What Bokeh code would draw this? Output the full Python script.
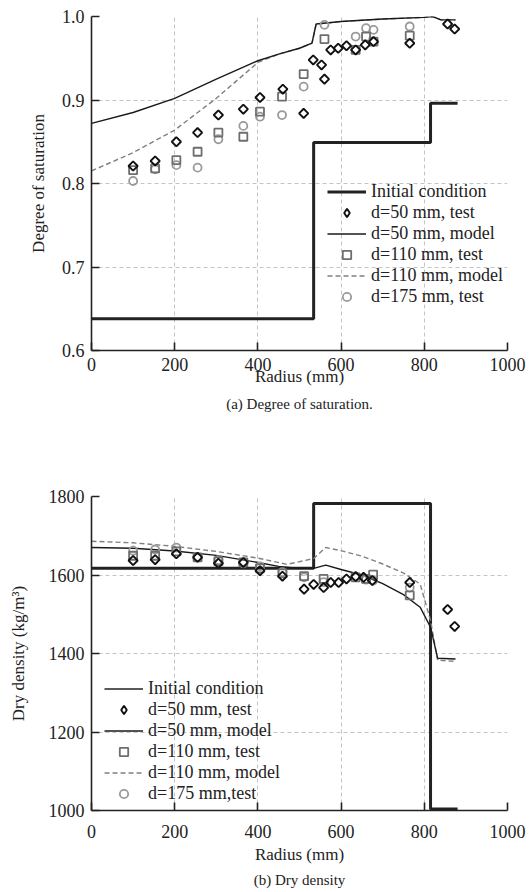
import math
from bokeh.plotting import figure
from bokeh.layouts import column
from bokeh.models import Legend, LegendItem, FixedTicker, NumeralTickFormatter, Title
from bokeh.embed import file_html
from bokeh.resources import INLINE

FONT = "Liberation Serif"

# ---------------- (a) Degree of saturation ----------------
init_r = [0, 534, 815, 880]
init_sat = [0.638, 0.849, 0.896, 0.896]

d50_test_r = [100, 153, 204, 255, 305, 365, 405, 460, 510, 533, 553, 560, 575, 593, 613, 635, 658, 678, 765, 856, 873]
d50_test_sat = [0.821, 0.827, 0.850, 0.861, 0.882, 0.889, 0.903, 0.913, 0.884, 0.948, 0.942, 0.925, 0.960, 0.962,
                0.965, 0.960, 0.966, 0.970, 0.968, 0.991, 0.985]

d50_model_r = [0, 100, 200, 300, 400, 450, 500, 530, 540, 600, 700, 800, 820, 840, 875]
d50_model_sat = [0.872, 0.885, 0.902, 0.925, 0.947, 0.955, 0.962, 0.968, 0.991, 0.994, 0.997, 0.999, 1.0, 0.996, 0.996]

d110_test_r = [100, 153, 204, 255, 305, 365, 405, 458, 510, 560, 635, 660, 678, 765]
d110_test_sat = [0.816, 0.818, 0.828, 0.838, 0.861, 0.856, 0.886, 0.904, 0.931, 0.973, 0.960, 0.976, 0.970, 0.977]

d110_model_r = [0, 100, 200, 300, 400, 450, 500, 530, 540, 600, 700, 800, 820, 840, 875]
d110_model_sat = [0.815, 0.837, 0.864, 0.902, 0.945, 0.955, 0.962, 0.968, 0.991, 0.994, 0.997, 0.999, 1.0, 0.996, 0.996]

d175_test_r = [100, 153, 204, 255, 305, 365, 405, 458, 510, 560, 635, 660, 678, 765]
d175_test_sat = [0.803, 0.817, 0.822, 0.819, 0.853, 0.869, 0.880, 0.882, 0.916, 0.990, 0.976, 0.986, 0.984, 0.988]

# ---------------- (b) Dry density ----------------
init_rho = [1617, 1782, 1004, 1004]

d50_test_rb = [100, 153, 204, 255, 305, 365, 405, 459, 511, 534, 558, 575, 594, 613, 635, 654, 675, 765, 856, 873]
d50_test_rho = [1637, 1639, 1654, 1645, 1630, 1632, 1611, 1597, 1564, 1576, 1568, 1581, 1581, 1590, 1596, 1594,
                1586, 1581, 1512, 1469]

d50_model_rb = [0, 100, 200, 300, 400, 450, 500, 534, 563, 600, 650, 700, 750, 790, 815, 832, 875]
d50_model_rho = [1670, 1668, 1661, 1650, 1632, 1622, 1617, 1617, 1625, 1614, 1600, 1578, 1550, 1518, 1467, 1388, 1386]

d110_test_rb = [100, 153, 204, 255, 305, 365, 405, 459, 511, 558, 635, 660, 677, 765]
d110_test_rho = [1649, 1649, 1660, 1645, 1635, 1632, 1617, 1604, 1597, 1590, 1594, 1590, 1601, 1548]

d110_model_rb = [0, 100, 200, 300, 400, 470, 534, 563, 600, 650, 700, 750, 790, 815, 832, 875]
d110_model_rho = [1686, 1682, 1673, 1660, 1643, 1627, 1642, 1670, 1662, 1648, 1628, 1605, 1577, 1484, 1383, 1380]

d175_test_rb = [100, 153, 204, 255, 305, 365, 405, 459, 511, 558, 635, 660, 677, 765]
d175_test_rho = [1662, 1665, 1670, 1645, 1638, 1630, 1622, 1607, 1594, 1582, 1596, 1588, 1586, 1568]

x_ticks = [0, 200, 400, 600, 800, 1000]
sat_ticks = [0.6, 0.7, 0.8, 0.9, 1.0]
rho_ticks = [1000, 1200, 1400, 1600, 1800]

INK = "#222222"


def style(p, yticks):
    p.outline_line_color = None
    p.background_fill_color = "white"
    p.border_fill_color = "white"
    p.xaxis.ticker = FixedTicker(ticks=x_ticks)
    p.yaxis.ticker = FixedTicker(ticks=yticks)
    for ax in p.axis:
        ax.major_tick_in = 8
        ax.major_tick_out = 0
        ax.minor_tick_in = 0
        ax.minor_tick_out = 0
        ax.axis_line_width = 1.6
        ax.major_tick_line_width = 1.6
        ax.axis_line_color = INK
        ax.major_tick_line_color = INK
        ax.major_label_text_font = FONT
        ax.major_label_text_font_size = "18px"
        ax.major_label_text_font_style = "normal"
        ax.major_label_text_color = INK
        ax.axis_label_text_font = FONT
        ax.axis_label_text_font_size = "17px"
        ax.axis_label_text_font_style = "normal"
        ax.axis_label_text_color = INK
        ax.major_label_standoff = 7
    for g in p.grid:
        g.grid_line_color = "#c4c4c4"
        g.grid_line_dash = "4 3"
        g.grid_line_width = 1


def add_legend(p, items, loc):
    leg = Legend(items=items, location=loc, background_fill_alpha=0, border_line_alpha=0,
                 padding=0, margin=0, spacing=0, glyph_width=39, glyph_height=21, label_height=21,
                 label_standoff=5, label_text_font=FONT, label_text_font_size="18px",
                 label_text_font_style="normal", label_text_color=INK)
    p.add_layout(leg, "center")


def markers(p, r175, v175, r110, v110, r50, v50):
    c = p.scatter(r175, v175, marker="circle", size=8, line_color="#9a9a9a",
                  fill_color="white", fill_alpha=0, line_width=1.8)
    s = p.scatter(r110, v110, marker="square", size=8, line_color="#6e6e6e",
                  fill_color="white", fill_alpha=0, line_width=1.8)
    p.scatter(r50, v50, marker="square", angle=math.pi / 4, size=6.5, line_color="#111111",
              fill_color="white", fill_alpha=0, line_width=1.9)
    # legend stand-in for the diamond symbol: drawn muted (invisible) in the plot,
    # the legend uses its normal glyph
    d = p.scatter(r50, v50, marker="diamond", line_color="#111111", fill_color="white",
                  fill_alpha=0, line_width=1.9, muted_line_alpha=0, muted_fill_alpha=0)
    d.muted = True
    return c, s, d


# ---------- figure (a) ----------
p1 = figure(width=532, height=440, x_range=(0, 1000), y_range=(0.6, 1.0),
            output_backend="svg", toolbar_location=None,
            min_border_left=91, min_border_right=25, min_border_top=16, min_border_bottom=90,
            x_axis_label="Radius (mm)", y_axis_label="Degree of saturation")
style(p1, sat_ticks)
p1.yaxis.formatter = NumeralTickFormatter(format="0.0")
p1.xaxis.axis_label_standoff = -7
p1.yaxis.axis_label_standoff = 11

r_init = p1.step(init_r, init_sat, mode="after", line_color=INK, line_width=3)
r_m110 = p1.line(d110_model_r, d110_model_sat, line_color="#808080", line_width=1.4, line_dash="5 3")
r_m50 = p1.line(d50_model_r, d50_model_sat, line_color="#1a1a1a", line_width=1.4)
r_t175, r_t110, r_t50 = markers(p1, d175_test_r, d175_test_sat, d110_test_r, d110_test_sat,
                                d50_test_r, d50_test_sat)

add_legend(p1, [
    LegendItem(label="Initial condition", renderers=[r_init]),
    LegendItem(label="d=50 mm, test", renderers=[r_t50]),
    LegendItem(label="d=50 mm, model", renderers=[r_m50]),
    LegendItem(label="d=110 mm, test", renderers=[r_t110]),
    LegendItem(label="d=110 mm, model", renderers=[r_m110]),
    LegendItem(label="d=175 mm, test", renderers=[r_t175]),
], (236, 43))
p1.add_layout(Title(text="(a) Degree of saturation.", align="center", text_font=FONT,
                    text_font_size="15px", text_font_style="normal", text_color=INK), "below")

# ---------- figure (b) ----------
p2 = figure(width=532, height=450, x_range=(0, 1000), y_range=(1000, 1800),
            output_backend="svg", toolbar_location=None,
            min_border_left=91, min_border_right=25, min_border_top=56, min_border_bottom=79,
            x_axis_label="Radius (mm)", y_axis_label="Dry density (kg/m³)")
style(p2, rho_ticks)
p2.xaxis.major_label_standoff = 14
p2.xaxis.axis_label_standoff = 4
p2.yaxis.axis_label_standoff = 18

r_init2 = p2.step(init_r, init_rho, mode="after", line_color=INK, line_width=3)
r_m110b = p2.line(d110_model_rb, d110_model_rho, line_color="#808080", line_width=1.4, line_dash="5 3")
r_m50b = p2.line(d50_model_rb, d50_model_rho, line_color="#1a1a1a", line_width=1.4)
r_t175b, r_t110b, r_t50b = markers(p2, d175_test_rb, d175_test_rho, d110_test_rb, d110_test_rho,
                                   d50_test_rb, d50_test_rho)
# legend stand-in: thin line for the initial condition entry (muted, so invisible in the plot)
r_init_leg = p2.step(init_r, init_rho, mode="after", line_color=INK, line_width=1.4, muted_line_alpha=0)
r_init_leg.muted = True

add_legend(p2, [
    LegendItem(label="Initial condition", renderers=[r_init_leg]),
    LegendItem(label="d=50 mm, test", renderers=[r_t50b]),
    LegendItem(label="d=50 mm, model", renderers=[r_m50b]),
    LegendItem(label="d=110 mm, test", renderers=[r_t110b]),
    LegendItem(label="d=110 mm, model", renderers=[r_m110b]),
    LegendItem(label="d=175 mm,test", renderers=[r_t175b]),
], (13, 6))
p2.add_layout(Title(text="(b) Dry density", align="center", text_font=FONT, standoff=6,
                    text_font_size="15px", text_font_style="normal", text_color=INK), "below")

layout = column(p1, p2, spacing=0)
open("out.html", "w").write(file_html(layout, INLINE))
